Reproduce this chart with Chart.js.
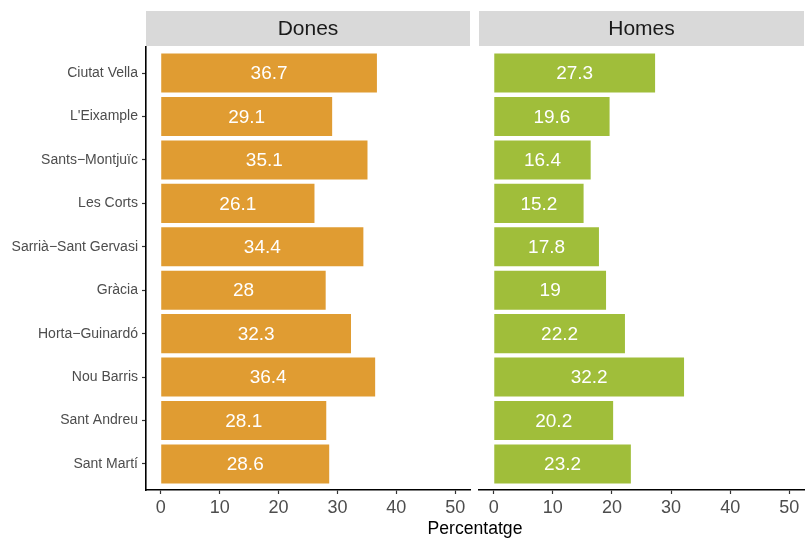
<!DOCTYPE html>
<html>
<head>
<meta charset="utf-8">
<script src="https://cdn.jsdelivr.net/npm/chart.js@4/dist/chart.umd.min.js"></script>
<style>
  html, body { margin: 0; padding: 0; background: #fff; }
  #wrap { position: relative; width: 806px; height: 541px; overflow: hidden; }
  canvas { position: absolute; top: 0; }
  #xtitle { position: absolute; left: 0; width: 950px; top: 518px; text-align: center;
            font: 17.6px "Liberation Sans", Arial, sans-serif; color: #000; line-height: 20px; }
</style>
</head>
<body>
<div id="wrap">
  <canvas id="dones" width="472" height="541" style="left:0"></canvas>
  <canvas id="homes" width="331" height="541" style="left:475px"></canvas>
  <div id="xtitle">Percentatge</div>
</div>
<script>
// Districtes de Barcelona, percentatge per sexe
const districtes = ["Ciutat Vella", "L'Eixample", "Sants\u2212Montjuïc", "Les Corts",
  "Sarrià\u2212Sant Gervasi", "Gràcia", "Horta\u2212Guinardó", "Nou Barris",
  "Sant Andreu", "Sant Martí"];
const dones = [36.7, 29.1, 35.1, 26.1, 34.4, 28, 32.3, 36.4, 28.1, 28.6];
const homes = [27.3, 19.6, 16.4, 15.2, 17.8, 19, 22.2, 32.2, 20.2, 23.2];
const xTicks = [0, 10, 20, 30, 40, 50];
const panels = ["Dones", "Homes"];

const FONT = '"Liberation Sans", Arial, sans-serif';

// Facet strip above the panel plus white value labels inside the bars
const facetPlugin = {
  id: 'facet',
  beforeDraw(chart, args, opts) {
    const { ctx, chartArea } = chart;
    ctx.save();
    ctx.fillStyle = '#D9D9D9';
    ctx.fillRect(chartArea.left, 11, chartArea.right - chartArea.left, 35);
    ctx.fillStyle = '#1A1A1A';
    ctx.font = '21px ' + FONT;
    ctx.textAlign = 'center';
    ctx.textBaseline = 'middle';
    ctx.fillText(opts.title, (chartArea.left + chartArea.right) / 2, 29);
    ctx.restore();
  },
  afterDatasetsDraw(chart) {
    const { ctx } = chart;
    const meta = chart.getDatasetMeta(0);
    const ds = chart.data.datasets[0];
    ctx.save();
    ctx.fillStyle = '#FFFFFF';
    ctx.font = '19px ' + FONT;
    ctx.textAlign = 'center';
    ctx.textBaseline = 'middle';
    meta.data.forEach((bar, i) => {
      ctx.fillText(String(ds.data[i].x), (bar.x + bar.base) / 2, bar.y + 1);
    });
    ctx.restore();
  }
};

function makeChart(id, values, color, title, showY, pad) {
  return new Chart(document.getElementById(id), {
    type: 'bar',
    data: {
      datasets: [{
        data: values.map((v, i) => ({ x: v, y: i })),
        backgroundColor: color,
        borderWidth: 0,
        categoryPercentage: 1,
        barPercentage: 0.9
      }]
    },
    options: {
      indexAxis: 'y',
      responsive: false,
      animation: false,
      devicePixelRatio: 1,
      layout: { padding: { top: 47, bottom: 0, left: pad.left, right: pad.right } },
      plugins: { legend: { display: false }, tooltip: { enabled: false }, facet: { title } },
      scales: {
        x: {
          type: 'linear',
          min: -2.5, max: 52.5,
          afterBuildTicks: s => { s.ticks = xTicks.map(v => ({ value: v })); },
          afterFit: s => { s.height = 51; },
          border: { display: true, color: '#000', width: 1.6 },
          grid: { drawOnChartArea: false, drawTicks: true, tickLength: 4, tickColor: '#333', tickWidth: 1.2 },
          ticks: { color: '#4D4D4D', font: { family: FONT, size: 18 }, padding: 3, maxRotation: 0 }
        },
        y: {
          type: 'linear',
          display: showY,
          reverse: true,
          offset: false,
          min: -0.6, max: 9.6,
          afterBuildTicks: s => { s.ticks = districtes.map((_, i) => ({ value: i })); },
          afterFit: s => { s.width = showY ? 146 : 0; },
          border: { display: true, color: '#000', width: 1.6 },
          grid: { offset: false, drawOnChartArea: false, drawTicks: true, tickLength: 4, tickColor: '#333', tickWidth: 1.2 },
          ticks: {
            color: '#4D4D4D', font: { family: FONT, size: 14 }, padding: 4,
            autoSkip: false,
            callback: v => districtes[v]
          }
        }
      }
    },
    plugins: [facetPlugin]
  });
}

makeChart('dones', dones, '#E09C32', panels[0], true, { left: 0, right: 2 });
makeChart('homes', homes, '#A0BE3A', panels[1], false, { left: 4, right: 2 });
</script>
</body>
</html>
